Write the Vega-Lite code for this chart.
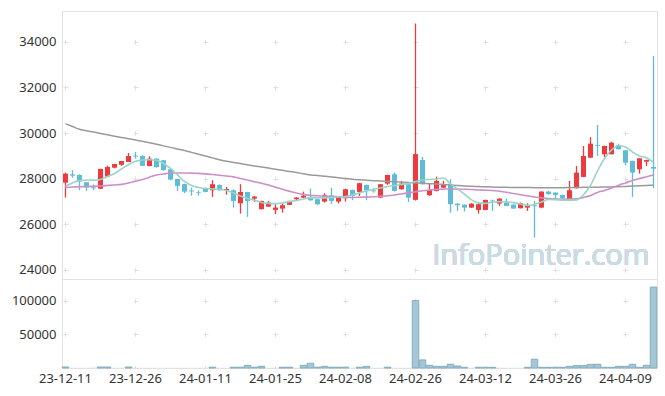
{
"$schema":"https://vega.github.io/schema/vega-lite/v6.json",
"padding":{"left":6,"top":10,"right":9,"bottom":4},
"spacing":0,
"bounds":"flush",
"data":{"values":[
{"d":"23-12-11","o":27825,"h":28263,"l":27170,"c":28219,"v":1500,"m5":27680,"m20":27619,"m60":30409},
{"d":"23-12-12","o":28190,"h":28370,"l":28040,"c":28130,"v":200,"m5":27812,"m20":27632,"m60":30286},
{"d":"23-12-13","o":28160,"h":28190,"l":27490,"c":27870,"v":200,"m5":27917,"m20":27645,"m60":30168},
{"d":"23-12-14","o":27840,"h":27850,"l":27460,"c":27610,"v":200,"m5":27943,"m20":27654,"m60":30098},
{"d":"23-12-15","o":27620,"h":27750,"l":27490,"c":27580,"v":300,"m5":27934,"m20":27667,"m60":30045},
{"d":"23-12-18","o":27560,"h":28440,"l":27545,"c":28425,"v":1500,"m5":27965,"m20":27680,"m60":29980},
{"d":"23-12-19","o":28090,"h":28570,"l":28080,"c":28510,"v":1500,"m5":28096,"m20":27702,"m60":29923},
{"d":"23-12-20","o":28480,"h":28650,"l":28450,"c":28640,"v":200,"m5":28228,"m20":27724,"m60":29862},
{"d":"23-12-21","o":28610,"h":28780,"l":28555,"c":28775,"v":200,"m5":28425,"m20":27750,"m60":29805},
{"d":"23-12-22","o":28730,"h":29125,"l":28730,"c":28990,"v":1500,"m5":28622,"m20":27812,"m60":29752},
{"d":"23-12-26","o":29010,"h":29170,"l":28880,"c":28970,"v":200,"m5":28762,"m20":27886,"m60":29695},
{"d":"23-12-27","o":28990,"h":29040,"l":28556,"c":28560,"v":200,"m5":28819,"m20":27961,"m60":29638},
{"d":"23-12-28","o":28556,"h":28980,"l":28540,"c":28876,"v":200,"m5":28828,"m20":28066,"m60":29572},
{"d":"24-01-02","o":28876,"h":28900,"l":28480,"c":28512,"v":200,"m5":28806,"m20":28162,"m60":29507},
{"d":"24-01-03","o":28806,"h":28820,"l":28340,"c":28381,"v":200,"m5":28666,"m20":28206,"m60":29437},
{"d":"24-01-04","o":28412,"h":28420,"l":27930,"c":27956,"v":200,"m5":28447,"m20":28245,"m60":29371},
{"d":"24-01-05","o":27987,"h":27990,"l":27460,"c":27680,"v":200,"m5":28162,"m20":28250,"m60":29301},
{"d":"24-01-08","o":27760,"h":27780,"l":27360,"c":27431,"v":200,"m5":27877,"m20":28250,"m60":29231},
{"d":"24-01-09","o":27480,"h":27606,"l":27255,"c":27440,"v":200,"m5":27702,"m20":28241,"m60":29152},
{"d":"24-01-10","o":27400,"h":27490,"l":27255,"c":27370,"v":200,"m5":27615,"m20":28232,"m60":29073},
{"d":"24-01-11","o":27590,"h":27606,"l":27400,"c":27420,"v":200,"m5":27571,"m20":28210,"m60":28994},
{"d":"24-01-12","o":27490,"h":27930,"l":27200,"c":27755,"v":1200,"m5":27549,"m20":28180,"m60":28911},
{"d":"24-01-15","o":27724,"h":27750,"l":27470,"c":27490,"v":200,"m5":27527,"m20":28149,"m60":28828},
{"d":"24-01-16","o":27500,"h":27640,"l":27300,"c":27545,"v":200,"m5":27483,"m20":28114,"m60":28758},
{"d":"24-01-17","o":27490,"h":27535,"l":26730,"c":27023,"v":1200,"m5":27374,"m20":28079,"m60":28710},
{"d":"24-01-18","o":26920,"h":27755,"l":26467,"c":27417,"v":1200,"m5":27242,"m20":28004,"m60":28661},
{"d":"24-01-19","o":27417,"h":27420,"l":26323,"c":27023,"v":4000,"m5":27133,"m20":27939,"m60":28609},
{"d":"24-01-22","o":27125,"h":27235,"l":26980,"c":27212,"v":1200,"m5":27045,"m20":27864,"m60":28556},
{"d":"24-01-23","o":26660,"h":27030,"l":26650,"c":27023,"v":2500,"m5":26958,"m20":27794,"m60":28512},
{"d":"24-01-24","o":26774,"h":27023,"l":26770,"c":26949,"v":200,"m5":26914,"m20":27720,"m60":28464},
{"d":"24-01-25","o":26629,"h":26879,"l":26441,"c":26730,"v":200,"m5":26905,"m20":27628,"m60":28412},
{"d":"24-01-26","o":26686,"h":26905,"l":26510,"c":26835,"v":1200,"m5":26936,"m20":27531,"m60":28364},
{"d":"24-01-29","o":26850,"h":27030,"l":26840,"c":27023,"v":1200,"m5":26993,"m20":27448,"m60":28315},
{"d":"24-01-30","o":27098,"h":27190,"l":27040,"c":27170,"v":200,"m5":27045,"m20":27369,"m60":28267},
{"d":"24-01-31","o":27168,"h":27431,"l":27150,"c":27255,"v":4000,"m5":27111,"m20":27308,"m60":28215},
{"d":"24-02-01","o":27198,"h":27562,"l":27030,"c":27054,"v":7000,"m5":27155,"m20":27264,"m60":28162},
{"d":"24-02-02","o":27098,"h":27110,"l":26835,"c":26879,"v":1200,"m5":27155,"m20":27251,"m60":28136},
{"d":"24-02-05","o":26993,"h":27360,"l":26950,"c":27286,"v":2500,"m5":27155,"m20":27233,"m60":28105},
{"d":"24-02-06","o":27270,"h":27606,"l":26880,"c":27023,"v":1200,"m5":27177,"m20":27220,"m60":28074},
{"d":"24-02-07","o":26993,"h":27210,"l":26905,"c":27198,"v":1200,"m5":27198,"m20":27203,"m60":28039},
{"d":"24-02-08","o":27141,"h":27560,"l":26993,"c":27535,"v":1200,"m5":27220,"m20":27190,"m60":28009},
{"d":"24-02-13","o":27505,"h":27520,"l":27054,"c":27242,"v":200,"m5":27286,"m20":27176,"m60":27978},
{"d":"24-02-14","o":27417,"h":27820,"l":27242,"c":27800,"v":1200,"m5":27374,"m20":27185,"m60":27947},
{"d":"24-02-15","o":27724,"h":27740,"l":27054,"c":27490,"v":2500,"m5":27461,"m20":27194,"m60":27930},
{"d":"24-02-16","o":27480,"h":27580,"l":27387,"c":27445,"v":200,"m5":27527,"m20":27203,"m60":27912},
{"d":"24-02-19","o":27168,"h":27770,"l":27160,"c":27755,"v":200,"m5":27593,"m20":27229,"m60":27895},
{"d":"24-02-20","o":27781,"h":28170,"l":27730,"c":28162,"v":1200,"m5":27658,"m20":27251,"m60":27877},
{"d":"24-02-21","o":28193,"h":28263,"l":27440,"c":27461,"v":200,"m5":27702,"m20":27286,"m60":27864},
{"d":"24-02-22","o":27535,"h":27900,"l":27520,"c":27781,"v":200,"m5":27746,"m20":27330,"m60":27847},
{"d":"24-02-23","o":27755,"h":27770,"l":26980,"c":27168,"v":200,"m5":27790,"m20":27378,"m60":27829},
{"d":"24-02-26","o":27070,"h":34800,"l":27040,"c":29075,"v":100000,"m5":27877,"m20":27422,"m60":27812},
{"d":"24-02-27","o":28819,"h":28950,"l":27740,"c":27755,"v":12000,"m5":27943,"m20":27470,"m60":27799},
{"d":"24-02-28","o":27273,"h":27800,"l":27250,"c":27505,"v":4000,"m5":27965,"m20":27505,"m60":27781},
{"d":"24-02-29","o":27461,"h":28088,"l":27440,"c":27900,"v":2500,"m5":27987,"m20":27531,"m60":27768},
{"d":"24-03-04","o":27606,"h":27900,"l":27590,"c":27755,"v":2500,"m5":28031,"m20":27540,"m60":27742},
{"d":"24-03-05","o":27755,"h":27975,"l":26510,"c":26880,"v":5500,"m5":27768,"m20":27549,"m60":27720},
{"d":"24-03-06","o":26905,"h":26920,"l":26585,"c":26835,"v":3000,"m5":27549,"m20":27540,"m60":27698},
{"d":"24-03-07","o":26861,"h":26870,"l":26555,"c":26730,"v":1000,"m5":27317,"m20":27536,"m60":27680},
{"d":"24-03-08","o":26730,"h":26920,"l":26720,"c":26905,"v":200,"m5":27067,"m20":27527,"m60":27667},
{"d":"24-03-11","o":26629,"h":26920,"l":26467,"c":26879,"v":1000,"m5":26936,"m20":27505,"m60":27654},
{"d":"24-03-12","o":26629,"h":27080,"l":26620,"c":27067,"v":1000,"m5":26914,"m20":27492,"m60":27641},
{"d":"24-03-13","o":27040,"h":27080,"l":26585,"c":27000,"v":1000,"m5":26979,"m20":27479,"m60":27632},
{"d":"24-03-14","o":26905,"h":27140,"l":26804,"c":27124,"v":200,"m5":26993,"m20":27448,"m60":27623},
{"d":"24-03-15","o":26949,"h":27124,"l":26790,"c":26804,"v":200,"m5":26979,"m20":27404,"m60":27619},
{"d":"24-03-18","o":26861,"h":26870,"l":26680,"c":26686,"v":200,"m5":26949,"m20":27352,"m60":27615},
{"d":"24-03-19","o":26703,"h":26950,"l":26690,"c":26923,"v":200,"m5":26892,"m20":27295,"m60":27610},
{"d":"24-03-20","o":26730,"h":26920,"l":26585,"c":26835,"v":1000,"m5":26826,"m20":27247,"m60":27610},
{"d":"24-03-21","o":26830,"h":27023,"l":25416,"c":26790,"v":13000,"m5":26870,"m20":27198,"m60":27606},
{"d":"24-03-22","o":26730,"h":27450,"l":26700,"c":27431,"v":1000,"m5":26979,"m20":27159,"m60":27606},
{"d":"24-03-25","o":27431,"h":27470,"l":27300,"c":27320,"v":1000,"m5":27089,"m20":27128,"m60":27606},
{"d":"24-03-26","o":27387,"h":27400,"l":27140,"c":27286,"v":1000,"m5":27080,"m20":27111,"m60":27606},
{"d":"24-03-27","o":27286,"h":27300,"l":27023,"c":27140,"v":1000,"m5":27058,"m20":27098,"m60":27606},
{"d":"24-03-28","o":27098,"h":27900,"l":27090,"c":27492,"v":2500,"m5":27058,"m20":27102,"m60":27610},
{"d":"24-03-29","o":27580,"h":28556,"l":27570,"c":28263,"v":3500,"m5":27067,"m20":27111,"m60":27615},
{"d":"24-04-01","o":28075,"h":29432,"l":28060,"c":28994,"v":3500,"m5":27286,"m20":27177,"m60":27619},
{"d":"24-04-02","o":28920,"h":29826,"l":28910,"c":29533,"v":5500,"m5":27702,"m20":27264,"m60":27623},
{"d":"24-04-03","o":29480,"h":30352,"l":28994,"c":29440,"v":5500,"m5":28337,"m20":27396,"m60":27628},
{"d":"24-04-04","o":29069,"h":29450,"l":28950,"c":29432,"v":1000,"m5":28885,"m20":27483,"m60":27632},
{"d":"24-04-05","o":29069,"h":29620,"l":29060,"c":29577,"v":1000,"m5":29257,"m20":27593,"m60":27636},
{"d":"24-04-08","o":29463,"h":29533,"l":29280,"c":29288,"v":2500,"m5":29454,"m20":27715,"m60":27650},
{"d":"24-04-09","o":29244,"h":29260,"l":28580,"c":28700,"v":2500,"m5":29388,"m20":27812,"m60":27658},
{"d":"24-04-11","o":28775,"h":28790,"l":27198,"c":28263,"v":5500,"m5":29169,"m20":27917,"m60":27672},
{"d":"24-04-12","o":28412,"h":28893,"l":28219,"c":28893,"v":1000,"m5":28994,"m20":28004,"m60":27689},
{"d":"24-04-15","o":28745,"h":28830,"l":28556,"c":28819,"v":4000,"m5":28920,"m20":28083,"m60":27702},
{"d":"24-04-16","o":28512,"h":33374,"l":27580,"c":28438,"v":120000,"m5":28710,"m20":28162,"m60":27715}
]},
"vconcat":[
{
"width":595,"height":268,
"encoding":{"x":{"field":"d","type":"ordinal","title":null,"scale":{"paddingInner":0,"paddingOuter":0},
  "axis":{"labels":false,"ticks":false,"domain":false,"minExtent":0,"maxExtent":0,"bandPosition":0.5,
   "values":["23-12-11","23-12-26","24-01-11","24-01-25","24-02-08","24-02-26","24-03-12","24-03-26","24-04-09"],
   "grid":true,"gridDash":[5,40.6],"gridDashOffset":17.3}}},
"layer":[
{"mark":{"type":"text","text":"InfoPointer.com","align":"right","baseline":"middle","dx":3,"font":"Open Sans","fontSize":29,"color":"#cadbe4"},
 "encoding":{"x":{"datum":"24-04-15","type":"ordinal"},"y":{"datum":24620,"type":"quantitative"}}},
{"mark":{"type":"rule","strokeWidth":1.3},
 "encoding":{"y":{"field":"l","type":"quantitative","title":null,"scale":{"domain":[23600,35350],"nice":false,"zero":false},
   "axis":{"values":[24000,26000,28000,30000,32000,34000],"format":"d","grid":true,"gridDash":[5,65],"gridDashOffset":69}},
  "y2":{"field":"h"},
  "color":{"condition":{"test":"datum.c >= datum.o","value":"#ec3a3e"},"value":"#5fbcd6"}}},
{"mark":{"type":"bar","width":5},
 "encoding":{"y":{"field":"o","type":"quantitative"},"y2":{"field":"c"},
  "color":{"condition":{"test":"datum.c >= datum.o","value":"#ec3a3e"},"value":"#5fbcd6"}}},
{"mark":{"type":"line","color":"#9a9a9a","strokeWidth":1.5,"interpolate":"monotone"},"encoding":{"y":{"field":"m60","type":"quantitative"}}},
{"mark":{"type":"line","color":"#cd8fc7","strokeWidth":1.6,"interpolate":"monotone"},"encoding":{"y":{"field":"m20","type":"quantitative"}}},
{"mark":{"type":"line","color":"#9ad4c6","strokeWidth":1.6,"interpolate":"monotone"},"encoding":{"y":{"field":"m5","type":"quantitative"}}}
]
},
{
"width":595,"height":89,
"mark":{"type":"bar","width":6.5,"fill":"#a4c7d6","stroke":"#85adbf","strokeWidth":1},
"encoding":{
 "x":{"field":"d","type":"ordinal","title":null,"scale":{"paddingInner":0,"paddingOuter":0},
  "axis":{"labelAngle":0,"labelPadding":4,"bandPosition":0.5,
   "values":["23-12-11","23-12-26","24-01-11","24-01-25","24-02-08","24-02-26","24-03-12","24-03-26","24-04-09"],
   "grid":true,"gridDash":[5,28.7],"gridDashOffset":14.6}},
 "y":{"field":"v","type":"quantitative","title":null,"scale":{"domain":[0,132000],"nice":false},
  "axis":{"values":[50000,100000],"format":"d","grid":true,"gridDash":[5,65],"gridDashOffset":69}},
 "strokeOpacity":{"condition":{"test":"datum.v < 500","value":0},"value":1}
}
}
],
"config":{
 "view":{"stroke":"#e2e2e2"},
 "axis":{"labelFont":"Noto Sans","labelFontSize":13,"labelColor":"#333333","domain":false,"ticks":false,"gridColor":"#e0e0e0","gridWidth":1},
 "axisY":{"minExtent":55,"maxExtent":55,"labelPadding":6}
}
}
